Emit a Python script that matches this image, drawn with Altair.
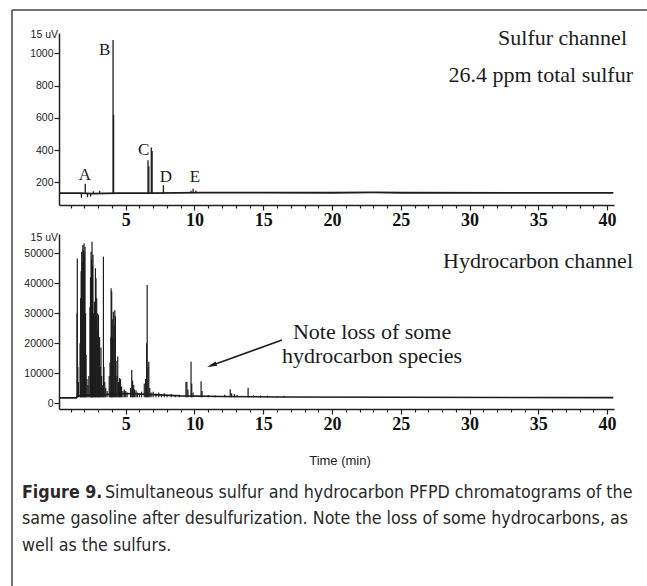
import altair as alt
import pandas as pd

# ---------------- data ----------------
# Sulfur channel: peak apex times (min) and heights (signal units)
sulfur_peak_time = [1.78, 2.06, 2.22, 2.45, 2.65, 3.10, 4.08, 4.12, 6.62, 6.68, 6.86, 6.92, 7.74, 9.75, 9.90, 10.10]
sulfur_peak_height = [105, 192, 108, 112, 145, 148, 1082, 620, 338, 300, 417, 395, 183, 148, 160, 150]
sulfur_base_time = [0.15, 1.70, 2.60, 4.50, 7.00, 10.50, 20.00, 23.00, 25.00, 40.45]
sulfur_base_value = [134, 134, 131, 134, 133, 137, 136, 138, 136, 135]
sulfur_label = ["A", "B", "C", "D", "E"]
sulfur_label_time = [2.04, 3.47, 6.31, 7.93, 10.04]
sulfur_label_value = [215, 990, 370, 203, 203]

# Hydrocarbon channel: peak apex times (min) and heights
hydro_peak_time = [
    1.46, 1.48, 1.52, 1.56,
    1.68, 1.72, 1.76, 1.80, 1.84, 1.88, 1.92, 1.97, 2.00, 2.04, 2.08, 2.12, 2.18, 2.25, 2.32,
    2.40, 2.44, 2.48, 2.52, 2.55, 2.58, 2.62, 2.66, 2.72, 2.76, 2.80, 2.84, 2.89, 2.93, 2.97,
    3.02, 3.06, 3.10, 3.15, 3.20, 3.25, 3.30, 3.38, 3.42, 3.48, 3.55, 3.65,
    3.80, 3.86, 3.92, 3.94, 3.98, 4.02, 4.06, 4.10, 4.16, 4.21, 4.25, 4.30, 4.36, 4.42, 4.48,
    4.55, 4.62, 4.70, 4.80, 4.90, 5.00, 5.10,
    5.35, 5.44, 5.50, 5.58, 5.65, 5.75, 5.85, 6.00, 6.15,
    6.35, 6.45, 6.52, 6.56, 6.62, 6.68, 6.75, 6.85, 7.00, 7.20, 7.40, 7.60, 7.80, 8.00, 8.30, 8.60, 8.90,
    9.38, 9.45, 9.52, 9.75, 9.80, 9.90, 10.48, 10.55, 11.00, 11.50, 12.20, 12.60, 12.70, 12.90, 13.10,
    13.90, 14.30, 14.80, 15.30, 16.00, 16.50,
]
hydro_peak_height = [
    30000, 48300, 12000, 7000,
    20000, 35000, 44000, 50500, 47000, 52800, 51000, 53300, 50000, 52200, 30000, 16000, 8000, 6000, 9000,
    32000, 42000, 50500, 48000, 53900, 46000, 49500, 30000, 33800, 28000, 45000, 41600, 35000, 30000, 24000,
    29500, 14000, 22000, 12000, 18500, 9000, 6000, 48900, 12000, 7000, 5000, 4000,
    9000, 13500, 22000, 38300, 37300, 28000, 22000, 30500, 26000, 31000, 29000, 14000, 9000, 15500, 7000,
    8300, 8000, 5500, 4000, 4500, 4000, 3500,
    5000, 11000, 7500, 6000, 4500, 4200, 3500, 3300, 3800,
    6500, 8000, 20000, 39400, 12000, 13800, 5000, 3500, 3800, 3200, 3500, 3000, 3300, 2800, 3000, 2700, 2800,
    7000, 7100, 4500, 13800, 6500, 3500, 7300, 4000, 2700, 2500, 2800, 4600, 3300, 3000, 2800,
    5100, 2600, 2500, 2400, 2300, 2400,
]
hydro_base_time = [0.15, 1.40, 1.50, 5.00, 7.00, 9.00, 12.00, 16.00, 25.00, 40.45]
hydro_base_value = [1700, 1700, 2400, 3200, 2800, 2400, 2200, 2000, 1900, 1800]

x_ticks = list(range(1, 41))
sulfur_y_ticks = [200, 400, 600, 800, 1000]
hydro_y_ticks = [0, 10000, 20000, 30000, 40000, 50000]

caption_bold = "Figure 9."
caption_lines = [
    "Simultaneous sulfur and hydrocarbon PFPD chromatograms of the",
    "same gasoline after desulfurization. Note the loss of some hydrocarbons, as",
    "well as the sulfurs.",
]

# ---------------- tables ----------------
s_peaks = pd.DataFrame({"t": sulfur_peak_time, "h": sulfur_peak_height, "base": 134})
s_base = pd.DataFrame({"t": sulfur_base_time, "v": sulfur_base_value})
s_lab = pd.DataFrame({"t": sulfur_label_time, "v": sulfur_label_value, "label": sulfur_label})
h_peaks = pd.DataFrame({"t": hydro_peak_time, "h": hydro_peak_height, "base": 1900})
h_base = pd.DataFrame({"t": hydro_base_time, "v": hydro_base_value})
one = pd.DataFrame({"k": [0]})

# ---------------- layout ----------------
W, H = 555, 376
X_DOMAIN = [0.15, 40.5]
S_SCALE = dict(domain=[60, 1126], range=[172, 0], nice=False, zero=False)
H_SCALE = dict(domain=[-2000, 56450], range=[376, 201], nice=False, zero=False)
INK = "#1c1c1c"
SERIF = "Liberation Serif"
SANS = "Liberation Sans"
CAPFONT = "DejaVu Sans Condensed, Liberation Sans Narrow, sans-serif"
CAPSIZE = 17.7


def xs(axis=None):
    return alt.X("t:Q", scale=alt.Scale(domain=X_DOMAIN, nice=False, zero=False), axis=axis)


def x_axis(offset):
    return alt.Axis(
        values=x_ticks, orient="bottom", offset=offset,
        labelExpr="datum.value % 5 === 0 ? datum.label : ''",
        tickSize={"condition": {"test": "datum.value % 5 === 0", "value": 5}, "value": 3},
        labelFont=SERIF, labelFontSize=18, labelFontWeight="bold", labelColor="#111",
        labelPadding=1, labelFlush=False, labelOverlap=False,
        domainColor="#222", domainWidth=1.5, tickColor="#222", tickWidth=1.2,
        grid=False, title=None,
    )


def y_axis(vals):
    return alt.Axis(
        values=vals, orient="left", format="d", tickSize=5,
        labelFont=SANS, labelFontSize=10.5, labelColor="#222", labelPadding=1,
        labelFlush=False, labelOverlap=False,
        domainColor="#222", domainWidth=1.5, tickColor="#222", tickWidth=1.2,
        grid=False, title=None,
    )


def text_at(txt, x, y, size=22, font=SERIF, align="left", weight="normal", color=INK, baseline="alphabetic"):
    return alt.Chart(one).mark_text(
        text=txt, font=font, fontSize=size, align=align, baseline=baseline,
        fontWeight=weight, color=color,
    ).encode(x=alt.value(x), y=alt.value(y))


frame_left = alt.Chart(one).mark_rule(color="#444", strokeWidth=1.5).encode(
    x=alt.value(-47), y=alt.value(-23), y2=alt.value(560))
frame_top = alt.Chart(one).mark_rule(color="#444", strokeWidth=1.5).encode(
    x=alt.value(-47), x2=alt.value(600), y=alt.value(-23))

s_line = alt.Chart(s_base).mark_line(color=INK, strokeWidth=1.8).encode(
    x=xs(x_axis(-204)), y=alt.Y("v:Q", scale=alt.Scale(**S_SCALE), axis=y_axis(sulfur_y_ticks)))
s_rules = alt.Chart(s_peaks).mark_rule(color=INK, strokeWidth=1.3).encode(
    x=xs(), y=alt.Y("base:Q", scale=alt.Scale(**S_SCALE), axis=None), y2="h:Q")
s_text = alt.Chart(s_lab).mark_text(font=SERIF, fontSize=17, color=INK, align="center", baseline="alphabetic").encode(
    x=xs(), y=alt.Y("v:Q", scale=alt.Scale(**S_SCALE), axis=None), text="label:N")

h_line = alt.Chart(h_base).mark_line(color=INK, strokeWidth=1.6).encode(
    x=xs(x_axis(0)), y=alt.Y("v:Q", scale=alt.Scale(**H_SCALE), axis=y_axis(hydro_y_ticks)))
h_rules = alt.Chart(h_peaks).mark_rule(color=INK, strokeWidth=1.2).encode(
    x=xs(), y=alt.Y("base:Q", scale=alt.Scale(**H_SCALE), axis=None), y2="h:Q")

arrow_line = alt.Chart(one).mark_rule(color=INK, strokeWidth=1.5).encode(
    x=alt.value(223), y=alt.value(307), x2=alt.value(151), y2=alt.value(333))
arrow_head = alt.Chart(one).mark_point(
    shape="M0,-1L0.45,1L-0.45,1Z", filled=True, color=INK, opacity=1, size=100, angle=250,
).encode(x=alt.value(152.7), y=alt.value(332.3))

layers = [
    frame_left, frame_top,
    s_line, s_rules, s_text,
    h_line, h_rules,
    text_at("Sulfur channel", 568, 12, align="right"),
    text_at("26.4 ppm total sulfur", 574, 48.7, align="right"),
    text_at("Hydrocarbon channel", 574, 235, align="right"),
    text_at("Note loss of some", 313, 306, align="center"),
    text_at("hydrocarbon species", 313, 330, align="center"),
    arrow_line, arrow_head,
    text_at("15 uV", -1, 2, size=10.5, font=SANS, align="right", baseline="middle"),
    text_at("15 uV", -1, 205, size=10.5, font=SANS, align="right", baseline="middle"),
    text_at("Time (min)", 281, 428, size=13, font=SANS, align="center", baseline="middle", color="#222"),
    text_at(caption_bold, -37, 465, size=CAPSIZE, font=CAPFONT, weight="bold", color="#2a2a2a"),
    text_at(caption_lines[0], 46, 465, size=CAPSIZE, font=CAPFONT, color="#2a2a2a"),
    text_at(caption_lines[1], -37, 491, size=CAPSIZE, font=CAPFONT, color="#2a2a2a"),
    text_at(caption_lines[2], -37, 518, size=CAPSIZE, font=CAPFONT, color="#2a2a2a"),
]

chart = alt.layer(*layers).resolve_scale(
    x="independent", y="independent"
).properties(
    width=W, height=H,
    autosize=alt.AutoSizeParams(type="none"),
    padding={"left": 59, "top": 33, "right": 33, "bottom": 177},
    background="white",
).configure_view(stroke=None)

chart.save("out.html", embed_options={"renderer": "svg", "actions": False})
